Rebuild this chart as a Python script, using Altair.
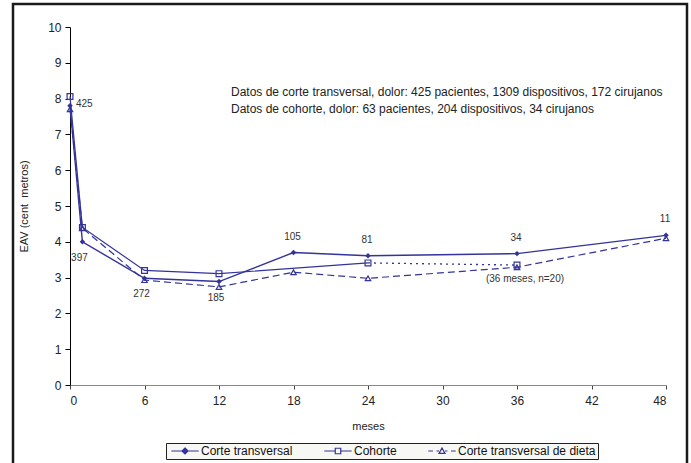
import altair as alt
import pandas as pd

# Pain score (EAV) by months after surgery
months = [0, 1, 6, 12, 18, 24, 36, 48]
corte = [7.8, 4.0, 2.98, 2.89, 3.7, 3.61, 3.67, 4.18]
corte_n = [425, 397, 272, 185, 105, 81, 34, 11]

cohorte_months = [0, 1, 6, 12, 24]
cohorte = [8.06, 4.4, 3.2, 3.11, 3.41]
cohorte_36_months = [24, 36]
cohorte_36 = [3.41, 3.35]

dieta = [7.7, 4.38, 2.93, 2.74, 3.15, 2.98, 3.29, 4.1]

series_names = ["Corte transversal", "Cohorte", "Corte transversal de dieta"]

notes = [
    "Datos de corte transversal, dolor: 425 pacientes, 1309 dispositivos, 172 cirujanos",
    "Datos de cohorte, dolor: 63 pacientes, 204 dispositivos, 34 cirujanos",
]
cohort_note = "(36 meses, n=20)"

NAVY = "#333399"
FONT = "Liberation Sans"

df_corte = pd.DataFrame({"mes": months, "eav": corte, "n": [str(v) for v in corte_n]})
df_cohorte = pd.DataFrame({"mes": cohorte_months, "eav": cohorte})
df_cohorte36 = pd.DataFrame({"mes": cohorte_36_months, "eav": cohorte_36})
df_dieta = pd.DataFrame({"mes": months, "eav": dieta})

x_scale = alt.Scale(domain=[0, 48], nice=False)
y_scale = alt.Scale(domain=[0, 10], nice=False)

x_enc = alt.X(
    "mes:Q", scale=x_scale, title="meses",
    axis=alt.Axis(values=list(range(0, 49, 6)), grid=False, domainColor="#888888",
                  tickColor="#444444", tickSize=4, labelFontSize=12, labelColor="#222222",
                  labelFont=FONT, titleFont=FONT, titleFontSize=11, titleFontWeight="normal",
                  titleColor="#222222", labelPadding=6, titlePadding=14, labelOverlap=False),
)
y_enc = alt.Y(
    "eav:Q", scale=y_scale, title="EAV (cent \u00a0metros)",
    axis=alt.Axis(values=list(range(0, 11)), tickCount=11, grid=False, domainColor="#000000",
                  tickColor="#000000", tickSize=5, labelFontSize=12, labelColor="#222222",
                  labelFont=FONT, titleFont=FONT, titleFontSize=11, titleFontWeight="normal",
                  titleColor="#222222", labelPadding=4, titlePadding=18, labelOverlap=False),
)

line_corte = alt.Chart(df_corte).mark_line(color=NAVY, strokeWidth=1.4).encode(x=x_enc, y=y_enc)
pts_corte = alt.Chart(df_corte).mark_point(
    shape="diamond", filled=True, color=NAVY, size=30, opacity=1
).encode(x=x_enc, y=y_enc)

line_cohorte = alt.Chart(df_cohorte).mark_line(color=NAVY, strokeWidth=1.2).encode(x=x_enc, y=y_enc)
line_cohorte36 = alt.Chart(df_cohorte36).mark_line(
    color=NAVY, strokeWidth=1.3, strokeDash=[2, 4]
).encode(x=x_enc, y=y_enc)
pts_cohorte = alt.Chart(pd.concat([df_cohorte, df_cohorte36.iloc[1:]])).mark_point(
    shape="square", filled=False, color=NAVY, size=34, strokeWidth=1.2, opacity=1
).encode(x=x_enc, y=y_enc)

line_dieta = alt.Chart(df_dieta).mark_line(
    color=NAVY, strokeWidth=1.2, strokeDash=[7, 4]
).encode(x=x_enc, y=y_enc)
pts_dieta = alt.Chart(df_dieta).mark_point(
    shape="triangle-up", filled=False, color=NAVY, size=30, strokeWidth=1.2, opacity=1
).encode(x=x_enc, y=y_enc)

# Sample-size labels next to the cross-sectional points
label_style = dict(font=FONT, fontSize=10, color="#333333")
lab_right = alt.Chart(df_corte).transform_filter(alt.datum.mes == 0).mark_text(
    align="left", baseline="middle", dx=6, dy=-2, **label_style
).encode(x=x_enc, y=y_enc, text="n:N")
lab_below = alt.Chart(df_corte).transform_filter(
    alt.FieldOneOfPredicate(field="mes", oneOf=[1, 6, 12])
).mark_text(align="center", baseline="middle", dx=-3, dy=16, **label_style).encode(
    x=x_enc, y=y_enc, text="n:N")
lab_above = alt.Chart(df_corte).transform_filter(alt.datum.mes >= 18).mark_text(
    align="center", baseline="middle", dx=-1, dy=-16, **label_style
).encode(x=x_enc, y=y_enc, text="n:N")

note36 = alt.Chart(df_cohorte36).transform_filter(alt.datum.mes == 36).transform_calculate(
    txt=f"'{cohort_note}'"
).mark_text(align="center", baseline="middle", dx=8, dy=14, **label_style).encode(
    x=x_enc, y=y_enc, text="txt:N")

# Study description block in the upper right
note_style = dict(align="left", baseline="middle", font=FONT, fontSize=12, color="#222222")
note1 = alt.Chart(pd.DataFrame({"txt": notes[:1]})).mark_text(**note_style).encode(
    x=alt.value(161), y=alt.value(65), text="txt:N")
note2 = alt.Chart(pd.DataFrame({"txt": notes[1:]})).mark_text(**note_style).encode(
    x=alt.value(161), y=alt.value(82), text="txt:N")

# Legend: line + marker symbols drawn as stroke-only custom paths
legend_paths = [
    "M-5,0H5M0,-1.1L1.1,0L0,1.1L-1.1,0ZM0,-0.6L0.6,0L0,0.6L-0.6,0Z",
    "M-5,0H-1M1,0H5M-1,-1H1V1H-1Z",
    "M-5,0H-3.3M-2,0H-1.1M1.1,0H2M3.3,0H5M0,-1.1L1.1,0.9H-1.1Z",
]
df_legend = pd.DataFrame({"serie": series_names, "mes": [0, 0, 0], "eav": [0, 0, 0]})
legend_layer = alt.Chart(df_legend).transform_filter("false").mark_point(
    filled=False, opacity=1, strokeWidth=1.2, color=NAVY
).encode(
    x=x_enc, y=y_enc,
    shape=alt.Shape("serie:N", scale=alt.Scale(domain=series_names, range=legend_paths),
                    legend=alt.Legend(
                        title=None, orient="none", direction="horizontal",
                        legendX=96, legendY=416, symbolSize=30, symbolStrokeColor=NAVY,
                        symbolFillColor="transparent",
                        symbolStrokeWidth=1.2, symbolOffset=11, labelOffset=10,
                        columnPadding=28, labelFont=FONT, labelFontSize=12,
                        labelColor="#111111", fillColor="#f7f7f3", strokeColor="#222222",
                        padding=2, labelLimit=300,
                    )),
)

# Outer chart frame
frame = alt.Chart(pd.DataFrame({"k": [0]})).mark_rect(
    fill="transparent", stroke="#1a1a1a", strokeWidth=2.5, clip=False
).encode(x=alt.value(-57), x2=alt.value(617), y=alt.value(-23), y2=alt.value(450))

chart = alt.layer(
    line_corte, frame,
    line_dieta, line_cohorte36, line_cohorte,
    pts_dieta, pts_cohorte, pts_corte,
    lab_right, lab_below, lab_above, note36, note1, note2, legend_layer,
).properties(
    width=596, height=358,
    autosize=alt.AutoSizeParams(type="none"),
    padding={"left": 70, "top": 27, "right": 25, "bottom": 78},
    background="white",
).configure_view(stroke=None)

chart.save("out.html", embed_options={"renderer": "svg", "actions": False})
